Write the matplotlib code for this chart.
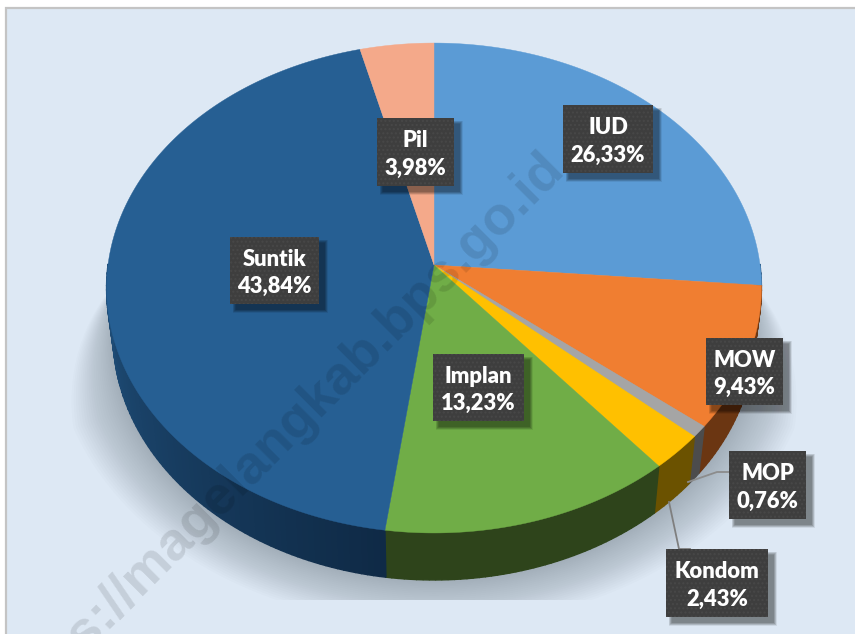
import numpy as np
import matplotlib
matplotlib.use("Agg")
import matplotlib.pyplot as plt
from matplotlib.patches import Rectangle
from matplotlib.colors import to_rgb

categories = ["IUD", "MOW", "MOP", "Kondom", "Implan", "Suntik", "Pil"]
values = [26.33, 9.43, 0.76, 2.43, 13.23, 43.84, 3.98]
top_colors = ["#5B9BD5", "#F07E31", "#A5A5A5", "#FFC000", "#70AD47", "#265F93", "#F4A98A"]
wall_start = ["#2E5C88", "#6B3612", "#4C4C4C", "#6B5200", "#2E441B", "#0F2A46", "#7A5040"]
wall_end = ["#2E5C88", "#6B3612", "#4C4C4C", "#6B5200", "#2E441B", "#1F4E79", "#7A5040"]
label_boxes = [(563, 105, 653, 173), (706, 338, 783, 405), (729, 451, 806, 519),
               (666, 549, 768, 617), (433, 354, 524, 421), (230, 237, 319, 304),
               (377, 118, 454, 186)]

W, H = 855, 634
BG = "#DDE8F4"
CX, CY, A, B, K = 434, 265, 326, 242.8, 0.0939
DEPTH, XS = 47, 0.98


def top_pt(theta):
    u, v = np.sin(theta), np.cos(theta)
    d = 1 + K * v
    return CX + A * u / d, CY - B * v / d


def bot_pt(theta):
    x, y = top_pt(theta)
    return CX + (x - CX) * XS, y + DEPTH


plt.rcParams["hatch.linewidth"] = 1.0
fig = plt.figure(figsize=(W / 100, H / 100), dpi=100, facecolor="white")
ax = fig.add_axes([0, 0, 1, 1])
ax.set_xlim(0, W)
ax.set_ylim(H, 0)
ax.axis("off")

ax.add_patch(Rectangle((6, 7.5), W, H, fc=BG, ec="#C4C4C4", lw=1.6, zorder=0))

# soft shadow below the pie, cut off at the floor line
clip = Rectangle((0, 0), W, 600, transform=ax.transData)
th = np.radians(np.linspace(0, 360, 361))
bx, by = bot_pt(th)
mask = by > 280
layers = 24
for i in range(layers):
    off = 46 * (1 - i / layers) ** 1.1
    f = np.clip((by - 280) / 130, 0, 1) ** 0.8
    sx = bx + off * f * np.sin(th) * 1.3
    sy = by - off * f * np.cos(th)
    p = ax.fill(sx[mask], sy[mask], color="#7F8B96", alpha=0.03, lw=0, zorder=1)
    p[0].set_clip_path(clip)

# slices
edges = np.cumsum([0] + values) / sum(values) * 2 * np.pi
for i in range(len(values)):
    n = max(3, int(np.degrees(edges[i + 1] - edges[i])))
    t = np.linspace(edges[i], edges[i + 1], n + 1)
    c0, c1 = np.array(to_rgb(wall_start[i])), np.array(to_rgb(wall_end[i]))
    for j in range(n):
        if np.cos(t[j]) > 0.0 and np.cos(t[j + 1]) > 0.0:
            continue
        col = c0 + (c1 - c0) * min(1, j / (0.5 * n))
        tx, ty = top_pt(t[j:j + 2])
        ux, uy = bot_pt(t[j:j + 2])
        ax.fill([tx[0], tx[1], ux[1], ux[0]], [ty[0], ty[1], uy[1], uy[0]],
                color=col, lw=1.0, zorder=2)
for i in range(len(values)):
    t = np.linspace(edges[i], edges[i + 1], 200)
    tx, ty = top_pt(t)
    ax.fill(np.r_[CX, tx], np.r_[CY, ty], color=top_colors[i], lw=0.3, zorder=3)

# leader lines
ax.plot([688, 717, 729], [482, 472, 472], color="#8C8C8C", lw=1.3, zorder=4)
ax.plot([669, 679, 690], [502, 549, 549], color="#7F7F7F", lw=1.3, zorder=4)

# labels
for name, val, (x0, y0, x1, y1) in zip(categories, values, label_boxes):
    for k in range(7):
        g = 7 - k
        ax.add_patch(Rectangle((x0 + 5 - g / 2 + 1, y0 + 5 - g / 2 + 1), x1 - x0 + g - 1, y1 - y0 + g - 1,
                               fc="black", ec="none", alpha=0.075, zorder=5))
    ax.add_patch(Rectangle((x0, y0), x1 - x0, y1 - y0, fc="#3E3E3E", ec="none", zorder=6))
    ax.add_patch(Rectangle((x0, y0), x1 - x0, y1 - y0, fc="none", ec="#484848",
                           lw=0, hatch="....", zorder=6.1))
    txt = f"{name}\n{val:.2f}".replace(".", ",") + "%"
    ax.text((x0 + x1) / 2, (y0 + y1) / 2 + 2.5, txt, color="white", family="Lato",
            fontweight="heavy", fontsize=15.8, ha="center", va="center", linespacing=1.36,
            multialignment="center", zorder=7)

# watermark
ax.text(556, 160, "https://magelangkab.bps.go.id", color="black", alpha=0.11,
        family="Liberation Sans", fontweight="bold", fontsize=39, rotation=45,
        rotation_mode="anchor", ha="right", va="center", zorder=8, clip_on=True)

fig.savefig("out.png", dpi=100)
